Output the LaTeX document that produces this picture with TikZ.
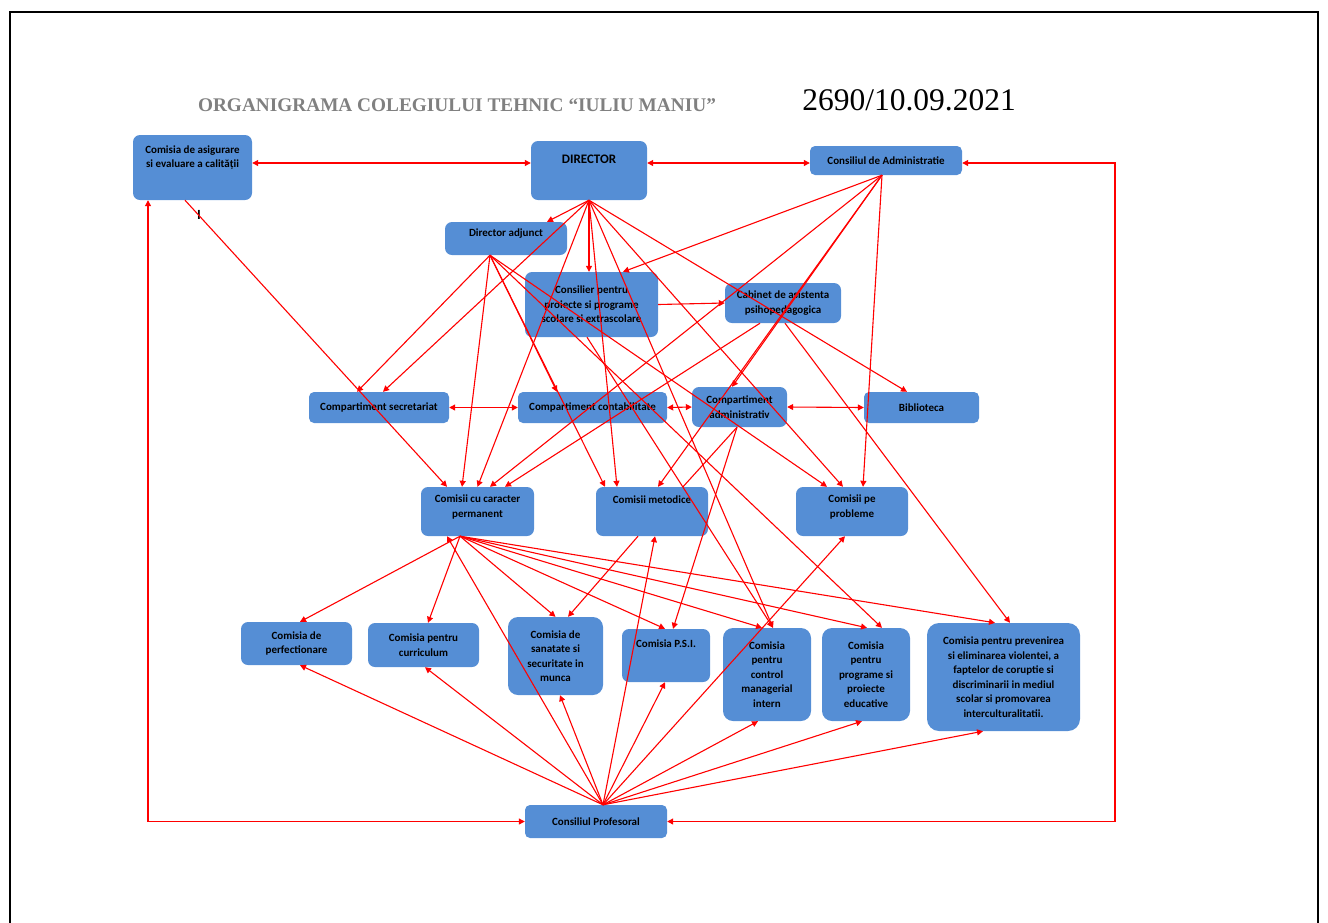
\documentclass[tikz,border=0pt]{standalone}
\usepackage{fontspec}
\setmainfont{Liberation Serif}
\newfontfamily\boxfont{Carlito}
\usetikzlibrary{arrows.meta}
\definecolor{boxblue}{RGB}{85,142,213}
\definecolor{titlegray}{RGB}{128,128,128}

\begin{document}
\begin{tikzpicture}[x=1pt, y=-1pt,
    box/.style={fill=boxblue, rounded corners=7pt, align=center, inner sep=2pt,
        font=\boxfont\bfseries\fontsize{11}{14.5}\selectfont},
    link/.style={red, line width=1.1pt, -{Triangle[length=6pt,width=6pt]}},
    link2/.style={red, line width=1.1pt, {Triangle[length=6pt,width=6pt]}-{Triangle[length=6pt,width=6pt]}},
    plain/.style={red, line width=1.1pt}]
    \useasboundingbox (0,0) rectangle (1328,922);

    % Chenar
    \draw[line width=1.5pt] (10,930) -- (10,12) -- (1318,12) -- (1318,930);

    % Titlu
    \node (title) at (457,105) {\color{titlegray}\bfseries\fontsize{19.3}{21}\selectfont ORGANIGRAMA COLEGIULUI TEHNIC “IULIU MANIU”};
    \node (nr) at (909,100) {\fontsize{31.5}{33}\selectfont 2690/10.09.2021};

    % Conducere
    \node[box, minimum width=119pt, minimum height=65pt, text depth=22pt] (ceac) at (192.5,167.5) {Comisia de asigurare\\si evaluare a calității};
    \node[box, minimum width=116pt, minimum height=59pt, text depth=23pt, font=\boxfont\bfseries\fontsize{13}{15}\selectfont] (dir) at (589,170.5) {DIRECTOR};
    \node[box, minimum width=152pt, minimum height=29pt, rounded corners=5pt] (ca) at (886,160.5) {Consiliul de Administratie};
    \node[box, minimum width=122pt, minimum height=33pt, text depth=12pt] (adj) at (506,238.5) {Director adjunct};
    \node[box, minimum width=133pt, minimum height=65pt] (cons) at (591.5,304.5) {Consilier pentru\\proiecte si programe\\scolare si extrascolare};
    \node[box, minimum width=116pt, minimum height=40pt] (cab) at (783,303) {Cabinet de asistenta\\psihopedagogica};
    \node (cursor) at (199,215) {\boxfont\bfseries\fontsize{14}{14}\selectfont I};

    % Compartimente
    \node[box, minimum width=140pt, minimum height=31pt, rounded corners=5pt] (sec) at (379,407.5) {Compartiment secretariat};
    \node[box, minimum width=149pt, minimum height=31pt, rounded corners=5pt] (cont) at (592.5,407.5) {Compartiment contabilitate};
    \node[box, minimum width=95pt, minimum height=40pt] (adm) at (739.5,407) {Compartiment\\administrativ};
    \node[box, minimum width=115pt, minimum height=31pt, rounded corners=5pt] (bib) at (921.5,407.5) {Biblioteca};

    % Comisii
    \node[box, minimum width=113pt, minimum height=49pt, text depth=11pt] (cp) at (477.5,511.5) {Comisii cu caracter\\permanent};
    \node[box, minimum width=112pt, minimum height=49pt, text depth=23pt] (met) at (652,511.5) {Comisii metodice};
    \node[box, minimum width=112pt, minimum height=49pt, text depth=11pt] (prob) at (852,511.5) {Comisii pe\\probleme};

    % Comisii cu caracter permanent
    \node[box, minimum width=111pt, minimum height=43pt] (perf) at (296.5,643.5) {Comisia de\\perfectionare};
    \node[box, minimum width=111pt, minimum height=44pt] (curr) at (423.5,645) {Comisia pentru\\curriculum};
    \node[box, minimum width=95pt, minimum height=78pt, rounded corners=10pt] (san) at (555.5,656) {Comisia de\\sanatate si\\securitate in\\munca};
    \node[box, minimum width=88pt, minimum height=53pt, text depth=23pt] (psi) at (666,655.5) {Comisia P.S.I.};
    \node[box, minimum width=88pt, minimum height=93pt, rounded corners=10pt] (ctrl) at (767,674.5) {Comisia\\pentru\\control\\managerial\\intern};
    \node[box, minimum width=88pt, minimum height=93pt, rounded corners=10pt] (prog) at (866,674.5) {Comisia\\pentru\\programe si\\proiecte\\educative};
    \node[box, minimum width=153pt, minimum height=108pt, rounded corners=12pt] (prev) at (1003.5,677) {Comisia pentru prevenirea\\si eliminarea violentei, a\\faptelor de coruptie si\\discriminarii in mediul\\scolar si promovarea\\interculturalitatii.};

    % Consiliul Profesoral
    \node[box, minimum width=142pt, minimum height=33pt, rounded corners=5pt] (prof) at (596,821.5) {Consiliul Profesoral};

    % Legaturi sus
    \draw[link2] ([yshift=4.5pt]ceac.east) -- ([yshift=7.5pt]dir.west);
    \draw[link2] ([yshift=7.5pt]dir.east) -- ([yshift=-2.5pt]ca.west);
    \coordinate (rc) at (1115,500);
    \draw[link2] ([yshift=-2.5pt]ca.east) -| (rc |- prof.east) -- (prof.east);
    \draw[link2] ([xshift=-44.5pt]ceac.south) |- (prof.west);
    \draw[link] ([xshift=-7.5pt]ceac.south) -- ([xshift=-30.5pt]cp.north);

    % Director
    \draw[link] (dir.south) -- ([xshift=41pt]adj.north);
    \draw[link] (dir.south) -- ([xshift=-2.5pt]cons.north);
    \draw[link] (dir.south) -- ([xshift=4pt]sec.north);
    \draw[link] (dir.south) -- (cp.north);
    \draw[link] (dir.south) -- ([xshift=-35pt]met.north);
    \draw[link] (dir.south) -- ([xshift=-9pt]prob.north);
    \draw[link] (dir.south) -- ([xshift=6pt]ctrl.north);
    \draw[link] (dir.south) -- ([xshift=-14.5pt]bib.north);

    % Director adjunct
    \draw[link] ([xshift=-16pt]adj.south) -- ([xshift=-22pt]sec.north);
    \draw[link] ([xshift=-16pt]adj.south) -- ([xshift=-15.5pt]cp.north);
    \draw[link] ([xshift=-16pt]adj.south) -- ([xshift=-35.5pt]cont.north);
    \draw[link] ([xshift=-16pt]adj.south) -- ([xshift=-47pt]met.north);
    \draw[link] ([xshift=-16pt]adj.south) -- ([xshift=-25pt]prob.north);
    \draw[link] ([xshift=-16pt]adj.south) -- ([xshift=16pt]prog.north);

    % Consiliul de Administratie
    \draw[link] ([xshift=-4pt]ca.south) -- ([xshift=31.5pt]cons.north);
    \draw[link] ([xshift=-4pt]ca.south) -- ([xshift=-7.5pt]adm.north);
    \draw[link] ([xshift=-4pt]ca.south) -- ([xshift=12.5pt]cp.north);
    \draw[link] ([xshift=-4pt]ca.south) -- ([xshift=6pt]met.north);
    \draw[link] ([xshift=-4pt]ca.south) -- ([xshift=11pt]prob.north);

    % Consilier, cabinet, compartimente
    \draw[link] (cons.east) -- (cab.west);
    \draw[link] ([xshift=-4.5pt]cons.south) -- ([xshift=6pt]ctrl.north);
    \draw[link] ([xshift=2pt]cab.south) -- ([xshift=6.5pt]prev.north);
    \draw[link] ([xshift=-23pt]cab.south) -- ([xshift=27.5pt]cp.north);
    \draw[link2] (sec.east) -- (cont.west);
    \draw[link2] (cont.east) -- (adm.west);
    \draw[link2] (adm.east) -- (bib.west);
    \draw[link] ([xshift=-2.5pt]adm.south) -- ([xshift=7pt]psi.north);
    \draw[plain] ([xshift=-2.5pt]adm.south) -- ([xshift=31pt]met.north);

    % Comisii cu caracter permanent
    \draw[link] ([xshift=-17.5pt]cp.south) -- ([xshift=3.5pt]perf.north);
    \draw[link] ([xshift=-17.5pt]cp.south) -- ([xshift=4.5pt]curr.north);
    \draw[link] ([xshift=-17.5pt]cp.south) -- (san.north);
    \draw[link] ([xshift=-17.5pt]cp.south) -- ([xshift=-1pt]psi.north);
    \draw[link] ([xshift=-17.5pt]cp.south) -- ([xshift=-5pt]ctrl.north);
    \draw[link] ([xshift=-17.5pt]cp.south) -- ([xshift=1pt]prog.north);
    \draw[link] ([xshift=-17.5pt]cp.south) -- ([xshift=-8.5pt]prev.north);
    \draw[link] ([xshift=-14pt]met.south) -- ([xshift=12.5pt]san.north);

    % Consiliul Profesoral
    \draw[link] ([xshift=7pt]prof.north) -- ([xshift=3.5pt]perf.south);
    \draw[link] ([xshift=7pt]prof.north) -- ([xshift=1.5pt]curr.south);
    \draw[link] ([xshift=7pt]prof.north) -- ([xshift=4.5pt]san.south);
    \draw[link] ([xshift=7pt]prof.north) -- ([xshift=-30.5pt]cp.south);
    \draw[link] ([xshift=7pt]prof.north) -- ([xshift=3pt]met.south);
    \draw[link] ([xshift=7pt]prof.north) -- ([xshift=-1pt]psi.south);
    \draw[link] ([xshift=7pt]prof.north) -- ([xshift=-7pt]prob.south);
    \draw[link] ([xshift=7pt]prof.north) -- ([xshift=-9pt]ctrl.south);
    \draw[link] ([xshift=7pt]prof.north) -- ([xshift=-4pt]prog.south);
    \draw[link] ([xshift=7pt]prof.north) -- ([xshift=-20.5pt]prev.south);
\end{tikzpicture}
\end{document}
